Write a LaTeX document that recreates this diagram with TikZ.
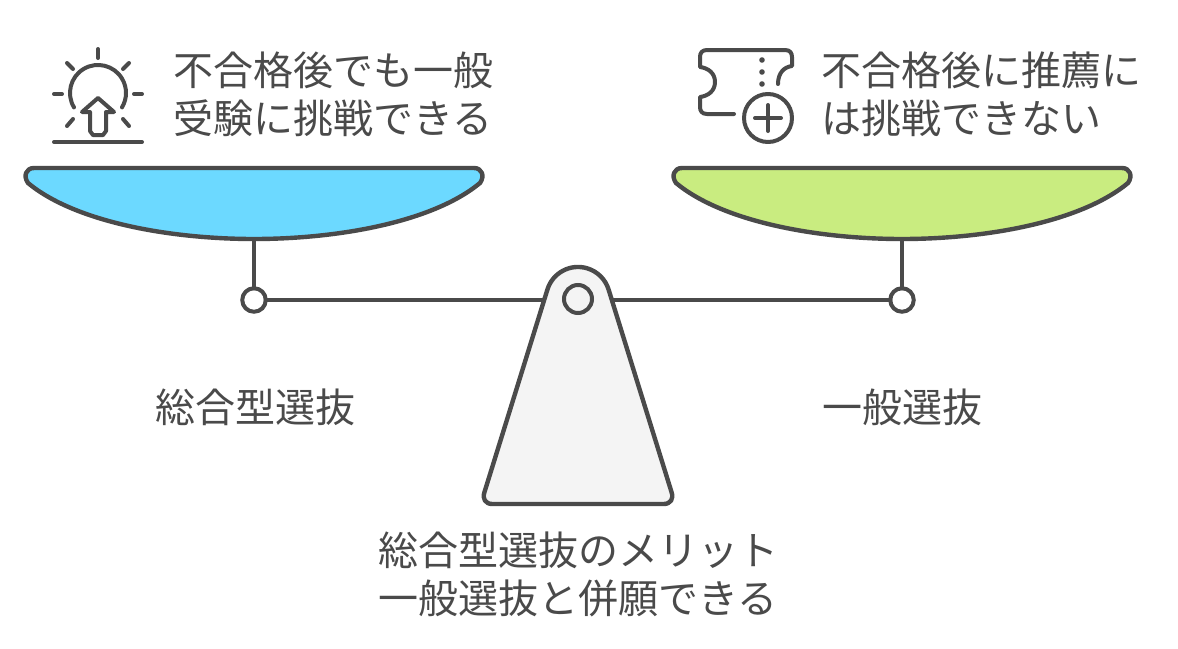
\documentclass[tikz,border=0pt]{standalone}
\usepackage{fontspec}
\setmainfont{Noto Sans CJK JP}
\definecolor{inkgray}{HTML}{4A4A4A}
\definecolor{panblue}{HTML}{6CD9FF}
\definecolor{pangreen}{HTML}{C9EC80}
\definecolor{standgray}{HTML}{F4F4F4}
\tikzset{
	outline/.style={draw=inkgray, line width=4.4pt, line cap=round, line join=round},
	iconline/.style={draw=inkgray, line width=4pt, line cap=round, line join=round},
	ring/.style={circle, draw=inkgray, fill=white, line width=4pt, inner sep=0pt, outer sep=0pt, minimum size=23.5pt},
	caption/.style={text=inkgray, font=\fontsize{40pt}{48pt}\selectfont, inner sep=0pt}
}
\def\scalepan[#1](#2){\draw[outline, fill=#1, shift={(#2, 0)}] (34, 168) -- (474, 168) .. controls (482, 168) and (485, 176) .. (480, 183) .. controls (433, 222) and (338, 239) .. (254, 239) .. controls (170, 239) and (75, 222) .. (28, 183) .. controls (23, 176) and (26, 168) .. (34, 168) -- cycle;}

\begin{document}
\begin{tikzpicture}[x=1pt, y=-1pt]
	%%%%% START %%%%%
	\useasboundingbox (0, 0) rectangle (1178, 648);

	% beam
	\node[ring] (ringleft) at (254, 300) {};
	\node[ring] (ringright) at (902, 300) {};
	\coordinate (panleft) at (254, 238);
	\coordinate (panright) at (902, 238);
	\draw[outline] (ringleft) -- (ringright);
	\draw[outline] (panleft) -- (ringleft);
	\draw[outline] (panright) -- (ringright);

	% pans
	\scalepan[panblue](0);
	\scalepan[pangreen](648);

	% stand
	\draw[outline, fill=standgray] (547.4, 289.6) arc (197:343:32) -- (671.5, 492) .. controls (674, 499) and (670.5, 504) .. (663.5, 504) -- (492.5, 504) .. controls (485.5, 504) and (482, 499) .. (484.5, 492) -- cycle;
	\node[ring, fill=standgray, minimum size=28pt] (pivot) at (578, 299) {};

	% sunrise icon
	\draw[iconline] (74, 107.4) arc (149:391:28);
	\draw[iconline] (98, 49) -- (98, 58);
	\draw[iconline] (67, 63) -- (73, 69);
	\draw[iconline] (129, 63) -- (123, 69);
	\draw[iconline] (54, 94) -- (62, 94);
	\draw[iconline] (134, 94) -- (142, 94);
	\draw[iconline] (67, 126) -- (73, 119);
	\draw[iconline] (129, 126) -- (123, 119);
	\draw[iconline] (54, 142) -- (142, 142);
	\draw[iconline] (98, 98) -- (82, 112) -- (90, 112) -- (90, 131) -- (93, 135) -- (103, 135) -- (106, 131) -- (106, 112) -- (114, 112) -- cycle;

	% ticket icon
	\draw[iconline] (734, 114) -- (707, 114) .. controls (702, 114) and (700, 111) .. (700, 107) -- (700, 97) .. controls (708, 96) and (715, 91) .. (715, 82) .. controls (715, 73) and (708, 68) .. (700, 67) -- (700, 57) .. controls (700, 53) and (702, 50) .. (707, 50) -- (785, 50) .. controls (790, 50) and (792, 53) .. (792, 57) -- (792, 66) .. controls (784, 67) and (778, 73) .. (778, 84);
	\draw[fill=inkgray, draw=none] (762, 60) circle (2.8);
	\draw[fill=inkgray, draw=none] (762, 72) circle (2.8);
	\draw[fill=inkgray, draw=none] (762, 84) circle (2.8);
	\draw[iconline] (768, 118) circle (24);
	\draw[iconline] (755, 118) -- (781, 118);
	\draw[iconline] (768, 105) -- (768, 131);

	% texts
	\node[caption, align=left, anchor=west] (meritleft) at (173.5, 94) {不合格後でも一般\\受験に挑戦できる};
	\node[caption, align=left, anchor=west] (meritright) at (821.5, 94) {不合格後に推薦に\\は挑戦できない};
	\node[caption] (nameleft) at (255, 407) {総合型選抜};
	\node[caption] (nameright) at (902, 407) {一般選抜};
	\node[caption, align=center] (standtext) at (578, 574) {総合型選抜のメリット\\一般選抜と併願できる};
	%%%%% END %%%%%
\end{tikzpicture}
\end{document}
